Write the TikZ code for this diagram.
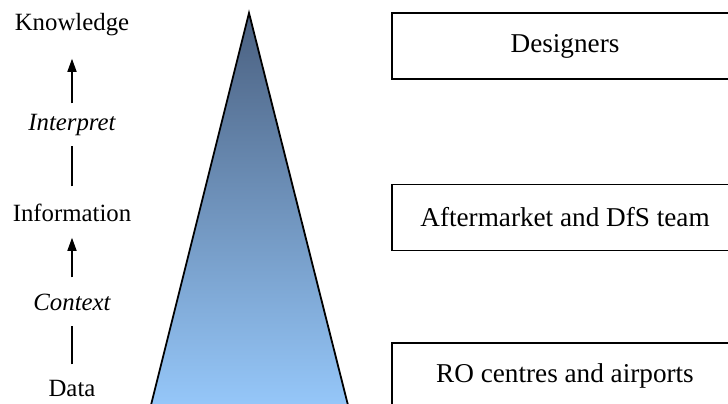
\documentclass[tikz,border=0pt]{standalone}
\usepackage{fontspec}
\setmainfont{Liberation Serif}
\usetikzlibrary{arrows.meta}
\definecolor{apex}{RGB}{74,96,128}
\definecolor{base}{RGB}{153,204,255}
\tikzset{lbl/.style={inner sep=0pt,text height=8pt,text depth=0pt,font=\fontsize{12.4}{14}\selectfont},
	grp/.style={draw,line width=0.75pt,minimum width=173pt,minimum height=33pt,inner sep=0pt,font=\fontsize{13.6}{16}\selectfont}}
\begin{document}
\begin{tikzpicture}[>={Triangle[length=6.5pt,width=4.5pt]},x=0.5pt,y=-0.5pt,line width=0.75pt]
		\useasboundingbox (0,0) rectangle (728,403);
		\clip (0,0) rectangle (728,403);
		\draw[line width=0.9pt,top color=apex,bottom color=base] (249,13)--(146,425)--(353,425)--cycle;
		\node[lbl] (know) at (72,22) {Knowledge};
		\node[lbl] (interp) at (72,122) {\itshape Interpret};
		\node[lbl] (info) at (72,213) {Information};
		\node[lbl] (ctx) at (72,302) {\itshape Context};
		\node[lbl] (data) at (72,388) {Data};
		\draw[->,shorten <=5pt,shorten >=14pt] (interp)--(know);
		\draw[shorten <=9pt,shorten >=7.5pt] (info)--(interp);
		\draw[->,shorten <=8pt,shorten >=8pt] (ctx)--(info);
		\draw[shorten <=7.5pt,shorten >=7.5pt] (data)--(ctx);
		\node[grp] (dsg) at (565,46) {Designers};
		\node[grp] (aft) at (565,217.5) {Aftermarket and DfS team};
		\node[grp] (ro) at (565,376) {RO centres and airports};
		\end{tikzpicture}
\end{document}
